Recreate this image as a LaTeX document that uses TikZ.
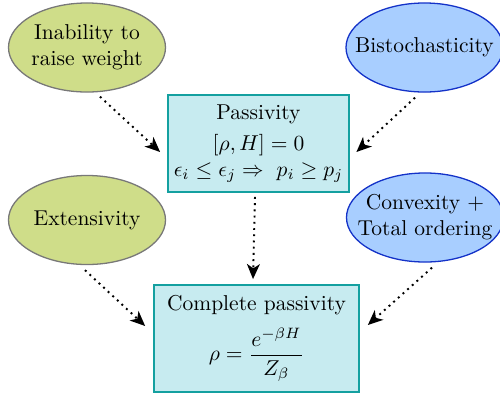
\documentclass[tikz,border=0pt]{standalone}
\usepackage{amsmath}
\usetikzlibrary{shapes.geometric,arrows.meta}
\definecolor{gfill}{RGB}{207,221,137}
\definecolor{gdraw}{RGB}{120,120,120}
\definecolor{bfill}{RGB}{168,206,255}
\definecolor{bdraw}{RGB}{20,50,200}
\definecolor{cfill}{RGB}{199,235,240}
\definecolor{cdraw}{RGB}{20,160,160}
\newcommand{\ztext}[1]{\makebox[0pt][c]{\begin{tabular}{@{}c@{}}#1\end{tabular}}}
\tikzset{
  gell/.style={ellipse,draw=gdraw,fill=gfill,line width=0.6pt,minimum width=73pt,minimum height=41.4pt,inner sep=0pt},
  bell/.style={ellipse,draw=bdraw,fill=bfill,line width=0.6pt,minimum width=73pt,minimum height=41.4pt,inner sep=0pt},
  cbox/.style={rectangle,draw=cdraw,fill=cfill,line width=0.8pt,inner sep=0pt,align=center},
  arr/.style={dotted,line width=0.9pt,-{Stealth[length=7pt,width=6pt,inset=2pt]}}
}
\begin{document}
\begin{tikzpicture}[x=0.465pt,y=-0.465pt]
\useasboundingbox (0,0) rectangle (500,398);
\clip (0,0) rectangle (500,398);
\node[gell] (ina) at (87,47.5) {\ztext{Inability to\\raise weight}};
\node[bell] (bis) at (424.5,47.5) {\ztext{Bistochasticity}};
\node[gell] (ext) at (87,220) {\ztext{Extensivity}};
\node[bell] (con) at (425,217.5) {\ztext{Convexity +\\Total ordering}};
\node[cbox,minimum width=84.2pt,minimum height=45.1pt] (pas) at (258.5,143.5)
  {Passivity\\[2.4pt] $[\rho,H]=0$\\ $\epsilon_i\leq\epsilon_j\Rightarrow\ p_i\geq p_j$};
\node[cbox,minimum width=95.3pt,minimum height=49.8pt] (cp) at (256.5,338.5)
  {Complete passivity\\[5pt] $\rho=\dfrac{e^{-\beta H}}{Z_\beta}$};
\draw[arr] ([shift={(13,4)}]ina.south) -- ([shift={(-7,8.5)}]pas.west);
\draw[arr] ([shift={(-9.5,5)}]bis.south) -- ([shift={(6.5,8.5)}]pas.east);
\draw[arr] ([shift={(-3.5,4)}]pas.south) -- ([shift={(-3.5,-5)}]cp.north);
\draw[arr] ([shift={(-2,5)}]ext.south) -- ([shift={(-8,-12.5)}]cp.west);
\draw[arr] ([shift={(7,5)}]con.south) -- ([shift={(8,-13.5)}]cp.east);
\end{tikzpicture}
\end{document}
